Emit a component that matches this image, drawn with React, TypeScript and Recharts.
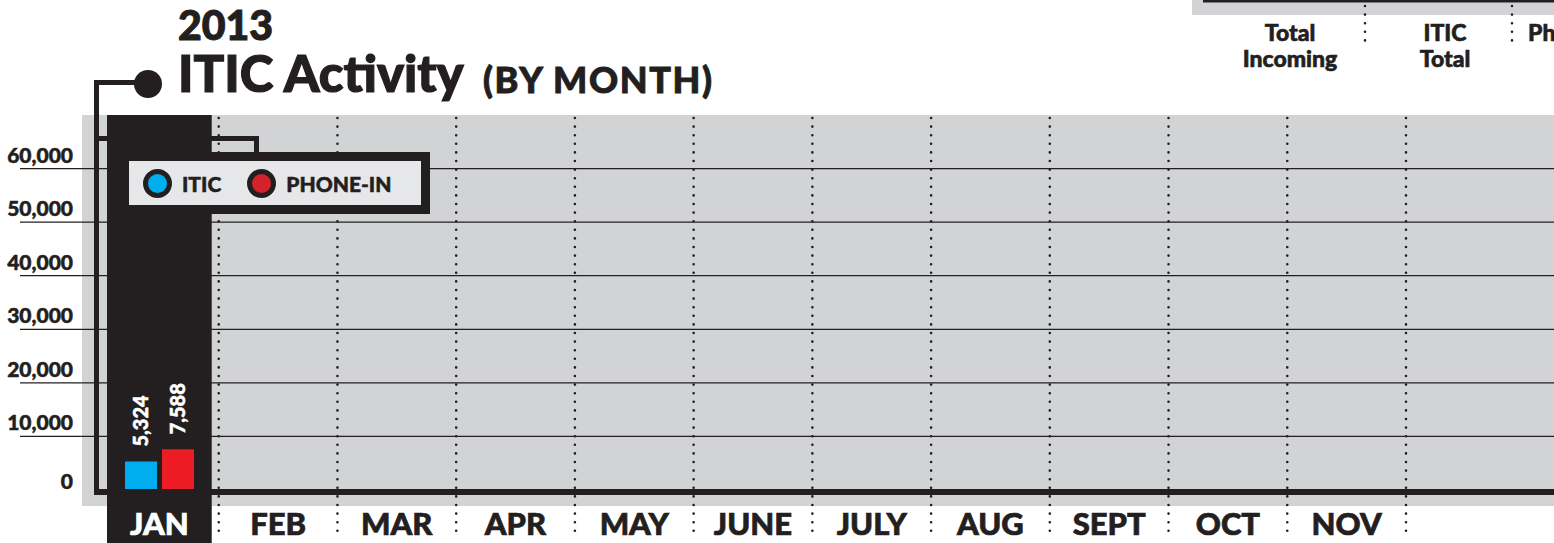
import { BarChart, Bar, XAxis, YAxis, ReferenceArea, LabelList } from 'recharts'

const months = ['JAN', 'FEB', 'MAR', 'APR', 'MAY', 'JUNE', 'JULY', 'AUG', 'SEPT', 'OCT', 'NOV']
const iticValues: (number | null)[] = [5324, null, null, null, null, null, null, null, null, null, null]
const phoneInValues: (number | null)[] = [7588, null, null, null, null, null, null, null, null, null, null]
const yTicks = [0, 10000, 20000, 30000, 40000, 50000, 60000]
const currentMonth = 'JAN'
const seriesNames = ['ITIC', 'PHONE-IN']

const data = months.map((month, i) => ({ month, itic: iticValues[i], phoneIn: phoneInValues[i] }))

const INK = '#231f20'
const GRAY = '#d1d3d4'
const BLUE = '#00aeef'
const RED = '#ed1c24'
const FONT = 'Lato, "Noto Sans", sans-serif'

const W = 1554
const H = 543
const PLOT_LEFT = 100
const PLOT_RIGHT = 1406
const PLOT_TOP = 115
const X_AXIS_H = 53
const PLOT_BOTTOM = H - X_AXIS_H
const BW = (PLOT_RIGHT - PLOT_LEFT) / months.length
const INSET = 7

const fmt = (v: number) => v.toLocaleString('en-US')

function YTick(props: any) {
  const { y, payload } = props
  const v = payload.value
  if (v === 0) {
    return (
      <g>
        <rect x={94} y={y - 1} width={W - 94} height={6} fill={INK} />
        <text x={73} y={y - 1} textAnchor="end" fill={INK} fontSize={21} fontWeight={900} fontFamily={FONT}
          stroke={INK} strokeWidth={0.5}>0</text>
      </g>
    )
  }
  return (
    <g>
      <line x1={20} x2={W} y1={y} y2={y} stroke={INK} strokeWidth={1.2} />
      <text x={73} y={y - 6} textAnchor="end" fill={INK} fontSize={21} fontWeight={900} fontFamily={FONT}
        stroke={INK} strokeWidth={0.5}>{fmt(v)}</text>
    </g>
  )
}

function XTick(props: any) {
  const { x, payload } = props
  const active = payload.value === currentMonth
  return (
    <g>
      {active && <rect x={x - BW / 2 + INSET} y={PLOT_BOTTOM} width={BW - 2 * INSET} height={X_AXIS_H} fill={INK} />}
      <line x1={x + BW / 2} x2={x + BW / 2} y1={PLOT_TOP + 3} y2={532} stroke={INK} strokeWidth={2.6}
        strokeDasharray="0 8.6" strokeLinecap="round" />
      <text x={x} y={535} textAnchor="middle" fill={active ? '#fff' : INK} fontSize={31} fontWeight={900} fontFamily={FONT}
        stroke={active ? '#fff' : INK} strokeWidth={0.7}>
        {payload.value}
      </text>
    </g>
  )
}

function ValueLabel(props: any) {
  const { x, y, width, value } = props
  if (value == null) return null
  return (
    <text transform={`translate(${x + width / 2 + 7}, ${y - 15}) rotate(-90)`} fill="#fff" fontSize={20}
      fontWeight={900} fontFamily={FONT} textAnchor="start" stroke="#fff" strokeWidth={0.5}>
      {fmt(value)}
    </text>
  )
}

function Column(props: any) {
  const { x, y, width, height } = props
  return <rect x={x + INSET} y={y} width={width - 2 * INSET} height={height} fill={INK} />
}

function Dot({ color }: { color: string }) {
  return <span style={{ display: 'inline-block', width: 19, height: 19, borderRadius: '50%', background: color, border: `5px solid ${INK}` }} />
}

function LegendBox() {
  const item = { display: 'flex', alignItems: 'center', gap: 10, fontSize: 21, fontWeight: 900, color: INK, WebkitTextStroke: `0.5px ${INK}` }
  const colors = [BLUE, '#d2232a']
  return (
    <div style={{ position: 'absolute', left: 122, top: 152, boxSizing: 'border-box', width: 308, height: 62,
      border: `9px solid ${INK}`, borderLeftWidth: 7, background: '#e6e7e8', display: 'flex', alignItems: 'center',
      gap: 26, paddingLeft: 14, fontFamily: FONT }}>
      {seriesNames.map((name, i) => (
        <div key={name} style={item}><Dot color={colors[i]} />{name}</div>
      ))}
    </div>
  )
}

function Overlay() {
  const t = { fill: INK, fontFamily: FONT, fontWeight: 900, stroke: INK }
  return (
    <svg width={W} height={H} style={{ position: 'absolute', left: 0, top: 0, pointerEvents: 'none' }}>
      <text x={178} y={40} fontSize={41} strokeWidth={1} {...t}>2013</text>
      <text x={178} y={92} fontSize={51} strokeWidth={1.2} {...t}>ITIC Activity</text>
      <text x={483} y={93} fontSize={36} letterSpacing={1.6} strokeWidth={0.9} {...t}>(BY MONTH)</text>
      <circle cx={148} cy={84} r={14} fill={INK} />
      <path d="M148 82.5 H96.5 V492" stroke={INK} strokeWidth={5} fill="none" />
      <path d="M96.5 138.5 H256.5 V153" stroke={INK} strokeWidth={5} fill="none" />
      <rect x={1192} y={0} width={W - 1192} height={15} fill={GRAY} />
      <rect x={1203} y={0} width={W - 1203} height={2.5} fill={INK} />
      <line x1={1365} x2={1365} y1={6} y2={48} stroke={INK} strokeWidth={2.6} strokeDasharray="0 8.6" strokeLinecap="round" />
      <line x1={1512} x2={1512} y1={6} y2={48} stroke={INK} strokeWidth={2.6} strokeDasharray="0 8.6" strokeLinecap="round" />
      <text x={1290} y={41} fontSize={23} textAnchor="middle" strokeWidth={0.6} {...t}>Total</text>
      <text x={1290} y={67} fontSize={23} textAnchor="middle" strokeWidth={0.6} {...t}>Incoming</text>
      <text x={1445} y={41} fontSize={23} textAnchor="middle" strokeWidth={0.6} {...t}>ITIC</text>
      <text x={1445} y={67} fontSize={23} textAnchor="middle" strokeWidth={0.6} {...t}>Total</text>
      <text x={1528} y={41} fontSize={23} strokeWidth={0.6} {...t}>Phone-In</text>
    </svg>
  )
}

export default function App() {
  return (
    <div style={{ position: 'absolute', left: 0, top: 0, width: W, height: H, overflow: 'hidden', background: '#fff' }}>
      <div style={{ position: 'absolute', left: 82, top: PLOT_TOP, width: W - 82, height: 391, background: GRAY }} />
      <div style={{ position: 'absolute', left: 0, top: 0 }}>
        <BarChart width={W} height={H} data={data} barSize={32} barGap={5}
          margin={{ top: PLOT_TOP, right: W - PLOT_RIGHT, bottom: 0, left: 0 }}>
          <ReferenceArea x1={currentMonth} x2={currentMonth} y1={0} y2={70000} shape={<Column />} ifOverflow="visible" />
          <XAxis dataKey="month" type="category" interval={0} axisLine={false} tickLine={false} height={X_AXIS_H} tick={<XTick />} />
          <YAxis domain={[0, 70000]} ticks={yTicks} width={PLOT_LEFT} axisLine={false} tickLine={false} tick={<YTick />} />
          <Bar dataKey="itic" name={seriesNames[0]} fill={BLUE} isAnimationActive={false}>
            <LabelList dataKey="itic" content={<ValueLabel />} />
          </Bar>
          <Bar dataKey="phoneIn" name={seriesNames[1]} fill={RED} isAnimationActive={false}>
            <LabelList dataKey="phoneIn" content={<ValueLabel />} />
          </Bar>
        </BarChart>
      </div>
      <Overlay />
      <LegendBox />
    </div>
  )
}
